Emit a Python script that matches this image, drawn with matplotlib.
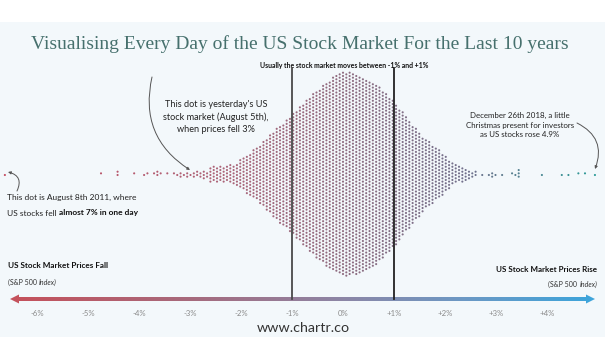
import numpy as np
import matplotlib
matplotlib.use('Agg')
import matplotlib.pyplot as plt
from matplotlib.colors import LinearSegmentedColormap
from matplotlib.patches import Rectangle, Polygon

# ---------------- data (daily % change of the S&P 500) -------------
body_start = -2.60      # centre of first histogram column (%)
body_step = 0.065       # column width (%)
body_counts = [5, 5, 5, 5, 5, 5, 6, 6, 7,
               9, 10, 12, 13, 15, 16, 18, 20, 22, 24,
               26, 28, 30, 31, 33, 35, 37, 39, 41, 43,
               45, 47, 49, 51, 52, 54, 56, 57, 59, 60,
               61, 62, 62, 62, 61, 61, 60, 59, 58, 57,
               56, 55, 53, 51, 49, 47, 45, 43, 40, 38,
               35, 33, 30, 28, 26, 23, 21, 20, 18, 16,
               15, 13, 11, 9, 7, 6, 5, 5, 4, 3]
left_tail = [-6.66, -4.73, -4.44, -4.40, -4.08, -3.92, -3.86, -3.73, -3.67, -3.61,
             -3.55, -3.43, -3.29, -3.24, -3.20, -3.16, -3.12, -3.08, -3.05, -2.98,
             -2.95, -2.91, -2.88, -2.84, -2.81, -2.78, -2.75, -2.72, -2.70, -2.67, -2.65]
right_tail = [2.53, 2.55, 2.58, 2.62, 2.72, 2.85, 2.90, 2.94, 2.98, 3.12, 3.29,
              3.41, 3.42, 3.42, 3.43, 3.91, 4.32, 4.39, 4.63, 4.73, 4.96]
tick_values = [-6, -5, -4, -3, -2, -1, 0, 1, 2, 3, 4]
tick_labels = ['-6%', '-5%', '-4%', '-3%', '-2%', '-1%', '0%', '+1%', '+2%', '+3%', '+4%']

# ---------------- layout helpers ----------------
W, H = 605, 341
X0, PPP = 343.0, 51.0          # pixel of 0 %, pixels per 1 %


def px(x):
    return (x - X0) / PPP


fig = plt.figure(figsize=(W / 100, H / 100), dpi=100)
ax = fig.add_axes([0, 0, 1, 1])
ax.set_xlim(px(0), px(W))
ax.set_ylim(H, 0)
ax.axis('off')
renderer = fig.canvas.get_renderer()


def fit(t, target_w):
    """scale the font of text t so that its rendered width is target_w pixels"""
    for _ in range(3):
        w = t.get_window_extent(renderer=renderer).width
        t.set_fontsize(t.get_fontsize() * target_w / w)
    return t


def right_edge(t):
    return ax.transData.inverted().transform((t.get_window_extent(renderer=renderer).x1, 0))[0]


def left_edge(t):
    return ax.transData.inverted().transform((t.get_window_extent(renderer=renderer).x0, 0))[0]


ax.add_patch(Rectangle((0, 1 - 337 / H), 1, (337 - 22) / H, transform=ax.transAxes,
                       color='#f3f8fb', zorder=0, lw=0))

# ---------------- build the swarm columns ----------------
cols = {}
for i, c in enumerate(body_counts):
    cols[i] = cols.get(i, 0) + c
for v in left_tail + right_tail:
    i = int(round((v - body_start) / body_step))
    cols[i] = cols.get(i, 0) + 1

DY = 3.3
YC = 175.0
xs, ys = [], []
for i, n in sorted(cols.items()):
    off = 0.5 * (i % 2)
    cand = sorted([k + off for k in range(-60, 61)], key=lambda t: (abs(t), t))[:n]
    for k in cand:
        xs.append(body_start + i * body_step)
        ys.append(YC + k * DY)
xs = np.array(xs)
ys = np.array(ys)

dot_cmap = LinearSegmentedColormap.from_list(
    'dots', [(0.0, '#c44c60'), (0.36, '#ad6478'), (0.57, '#8f6c80'),
             (0.78, '#72708c'), (1.0, '#2a9c98')])
norm_x = (xs - (-6.7)) / (5.0 - (-6.7))
ax.scatter(xs, ys, s=2.3, c=dot_cmap(np.clip(norm_x, 0, 1)), marker='o',
           linewidths=0, zorder=3)

# ---------------- vertical guide lines ----------------
ax.plot([-1, -1], [68, 299], color='#4a4a4a', lw=1.3, zorder=4)
ax.plot([1, 1], [68, 299], color='#222222', lw=1.3, zorder=4)

# ---------------- gradient arrow ----------------
bar_cmap = LinearSegmentedColormap.from_list(
    'bar', [(0.0, '#c4525c'), (0.3, '#a66a7c'), (0.57, '#8c86a6'),
             (0.78, '#6c98c4'), (1.0, '#3ea4da')])
grad = np.linspace(0, 1, 400).reshape(1, -1)
ax.imshow(grad, cmap=bar_cmap, extent=[px(17), px(589), 301, 297], aspect='auto',
          zorder=2, interpolation='bilinear')
ax.add_patch(Polygon([(px(10), 299), (px(19), 294.5), (px(19), 303.5)],
                     closed=True, color='#c4525c', lw=0, zorder=2))
ax.add_patch(Polygon([(px(595), 299), (px(586), 294.5), (px(586), 303.5)],
                     closed=True, color='#3ea4da', lw=0, zorder=2))
ax.set_xlim(px(0), px(W))
ax.set_ylim(H, 0)

for v, lab in zip(tick_values, tick_labels):
    ax.text(v, 313, lab, ha='center', va='center', fontsize=5.6, color='#8a8a8a',
            family='Lato')

# ---------------- texts ----------------
fit(ax.text(px(300), 44, 'Visualising Every Day of the US Stock Market For the Last 10 years',
            ha='center', va='center', fontsize=14, color='#46706d',
            family='Liberation Serif'), 538)

fit(ax.text(px(344), 65.5, 'Usually the stock market moves between -1% and +1%', ha='center',
            va='center', fontsize=4.9, fontweight='bold', color='#111111', family='Lato'), 166)

fit(ax.text(px(216), 117, "This dot is yesterday's US\nstock market (August 5th),\nwhen prices fell 3%",
            ha='center', va='center', fontsize=6.3, color='#222222', family='Lato',
            linespacing=1.45), 106)

fit(ax.text(px(520), 125, "December 26th 2018, a little\nChristmas present for investors\nas US stocks rose 4.9%",
            ha='center', va='center', fontsize=6.4, color='#222222', family='Lato',
            linespacing=1.45), 108)

l1 = fit(ax.text(px(72), 197, 'This dot is August 8th 2011, where', ha='center', va='center',
                 fontsize=6.0, color='#222222', family='Lato'), 129)
fs_l = l1.get_fontsize()
t1 = ax.text(px(7), 213, 'US stocks fell ', ha='left', va='center',
             fontsize=fs_l, color='#222222', family='Lato')
ax.text(right_edge(t1), 213, 'almost 7% in one day', ha='left', va='center', fontsize=fs_l,
        fontweight='bold', color='#111111', family='Lato')

fit(ax.text(px(8), 266, 'US Stock Market Prices Fall', ha='left', va='center', fontsize=5.8,
            fontweight='bold', color='#111111', family='Lato'), 100)
fit(ax.text(px(597), 269, 'US Stock Market Prices Rise', ha='right', va='center', fontsize=5.8,
            fontweight='bold', color='#111111', family='Lato'), 100)

# "(S&P 500 Index)" with italic "Index"
a1 = ax.text(px(8), 282, '(S&P 500 ', ha='left', va='center', fontsize=5.0,
             color='#333333', family='Lato')
ax.text(right_edge(a1), 282, 'Index)', ha='left', va='center', fontsize=5.0, style='italic',
        color='#333333', family='Lato')
b2 = ax.text(px(597), 284, 'Index)', ha='right', va='center', fontsize=5.0, style='italic',
             color='#333333', family='Lato')
ax.text(left_edge(b2), 284, '(S&P 500 ', ha='right', va='center', fontsize=5.0,
        color='#333333', family='Lato')

fit(ax.text(px(303), 328, 'www.chartr.co', ha='center', va='center', fontsize=10,
            color='#333333', family='Lato'), 92)

# ---------------- annotation curves ----------------
ap = dict(arrowstyle='-|>', color='#555555', lw=0.7, mutation_scale=4,
          shrinkA=0, shrinkB=0)
ax.annotate('', xy=(px(8), 172), xytext=(px(17), 191),
            arrowprops=dict(ap, connectionstyle='arc3,rad=0.6'))
ax.annotate('', xy=(px(190), 170), xytext=(px(152), 77),
            arrowprops=dict(ap, connectionstyle='arc3,rad=0.35'))
ax.annotate('', xy=(px(595), 169), xytext=(px(577), 123),
            arrowprops=dict(ap, connectionstyle='arc3,rad=-0.45'))

fig.savefig('out.png', dpi=100)
